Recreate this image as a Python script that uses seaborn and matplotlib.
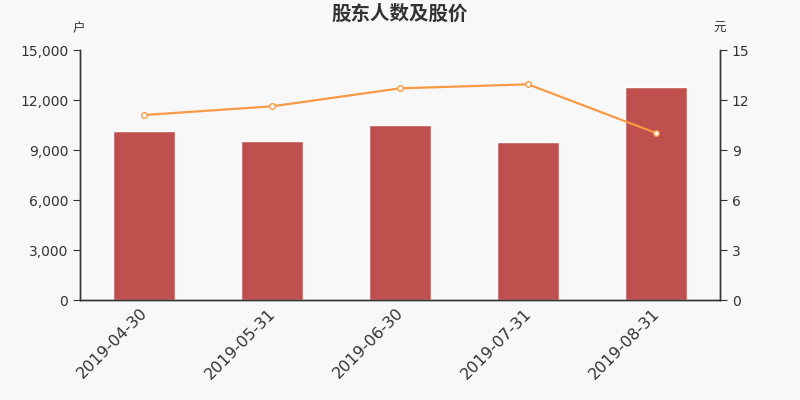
import matplotlib
matplotlib.use("Agg")
import matplotlib.pyplot as plt
import matplotlib.ticker as mticker
import matplotlib.transforms as mtrans
import seaborn as sns
import pandas as pd

# --- data ---
dates = ["2019-04-30", "2019-05-31", "2019-06-30", "2019-07-31", "2019-08-31"]
holders = [10120, 9540, 10500, 9480, 12780]
price = [11.10, 11.62, 12.70, 12.94, 10.02]

df = pd.DataFrame({"date": dates, "holders": holders, "price": price})

sns.set_style("white")
plt.rcParams["font.family"] = ["DejaVu Sans", "Noto Sans CJK SC"]
bg = "#f8f8f8"
axis_col = "#333333"

fig = plt.figure(figsize=(8, 4), dpi=100, facecolor=bg)
ax = fig.add_axes([0.1, 0.25, 0.8, 0.625], facecolor=bg)

sns.barplot(data=df, x="date", y="holders", color="#c0504d", saturation=1,
            width=0.48, ax=ax, zorder=2)
ax.set_xlim(-0.5, len(dates) - 0.5)
ax.set_ylim(0, 15000)
ax.yaxis.set_major_locator(mticker.MultipleLocator(3000))
ax.yaxis.set_major_formatter(mticker.FuncFormatter(lambda v, p: f"{int(v):,}"))
ax.set_xlabel("")
ax.set_ylabel("")

# ticks between categories
ax.set_xticks([i + 0.5 for i in range(-1, len(dates))], minor=False)
ax.set_xticklabels([])
ax.set_xticks(range(len(dates)), minor=True)
ax.set_xticklabels(dates, minor=True, rotation=45, ha="right", rotation_mode="anchor",
                   fontsize=11.5, color=axis_col)
ax.tick_params(axis="x", which="minor", length=0, pad=4)
ax.tick_params(axis="x", which="major", length=5, color=axis_col)
ax.tick_params(axis="y", length=5, color=axis_col, labelcolor=axis_col, labelsize=10)
shift = mtrans.ScaledTranslation(-4 / 100, 0, fig.dpi_scale_trans)
for lbl in ax.get_xticklabels(minor=True):
    lbl.set_transform(lbl.get_transform() + shift)

ax2 = ax.twinx()
sns.lineplot(data=df, x="date", y="price", color="#f79a43", linewidth=1.6,
             marker="o", markersize=4, markerfacecolor="white",
             markeredgecolor="#f79a43", markeredgewidth=1, ax=ax2, zorder=3)
ax2.set_ylim(0, 15)
ax2.yaxis.set_major_locator(mticker.MultipleLocator(3))
ax2.set_ylabel("")
ax2.set_xlabel("")
ax2.tick_params(axis="y", length=5, color=axis_col, labelcolor=axis_col, labelsize=10)

for a in (ax, ax2):
    a.spines["top"].set_visible(False)
    for s in ("left", "right", "bottom"):
        a.spines[s].set_color(axis_col)
        a.spines[s].set_linewidth(1)

cjk = ["Noto Sans CJK SC", "DejaVu Sans"]
fig.text(0.5, 0.965, "股东人数及股价", ha="center", va="center", fontsize=14,
         fontweight="bold", color=axis_col, family=cjk)
fig.text(0.098, 0.928, "户", ha="center", va="center", fontsize=9, color=axis_col, family=cjk)
fig.text(0.9, 0.928, "元", ha="center", va="center", fontsize=9, color=axis_col, family=cjk)

fig.savefig("out.png", dpi=100, facecolor=bg)
